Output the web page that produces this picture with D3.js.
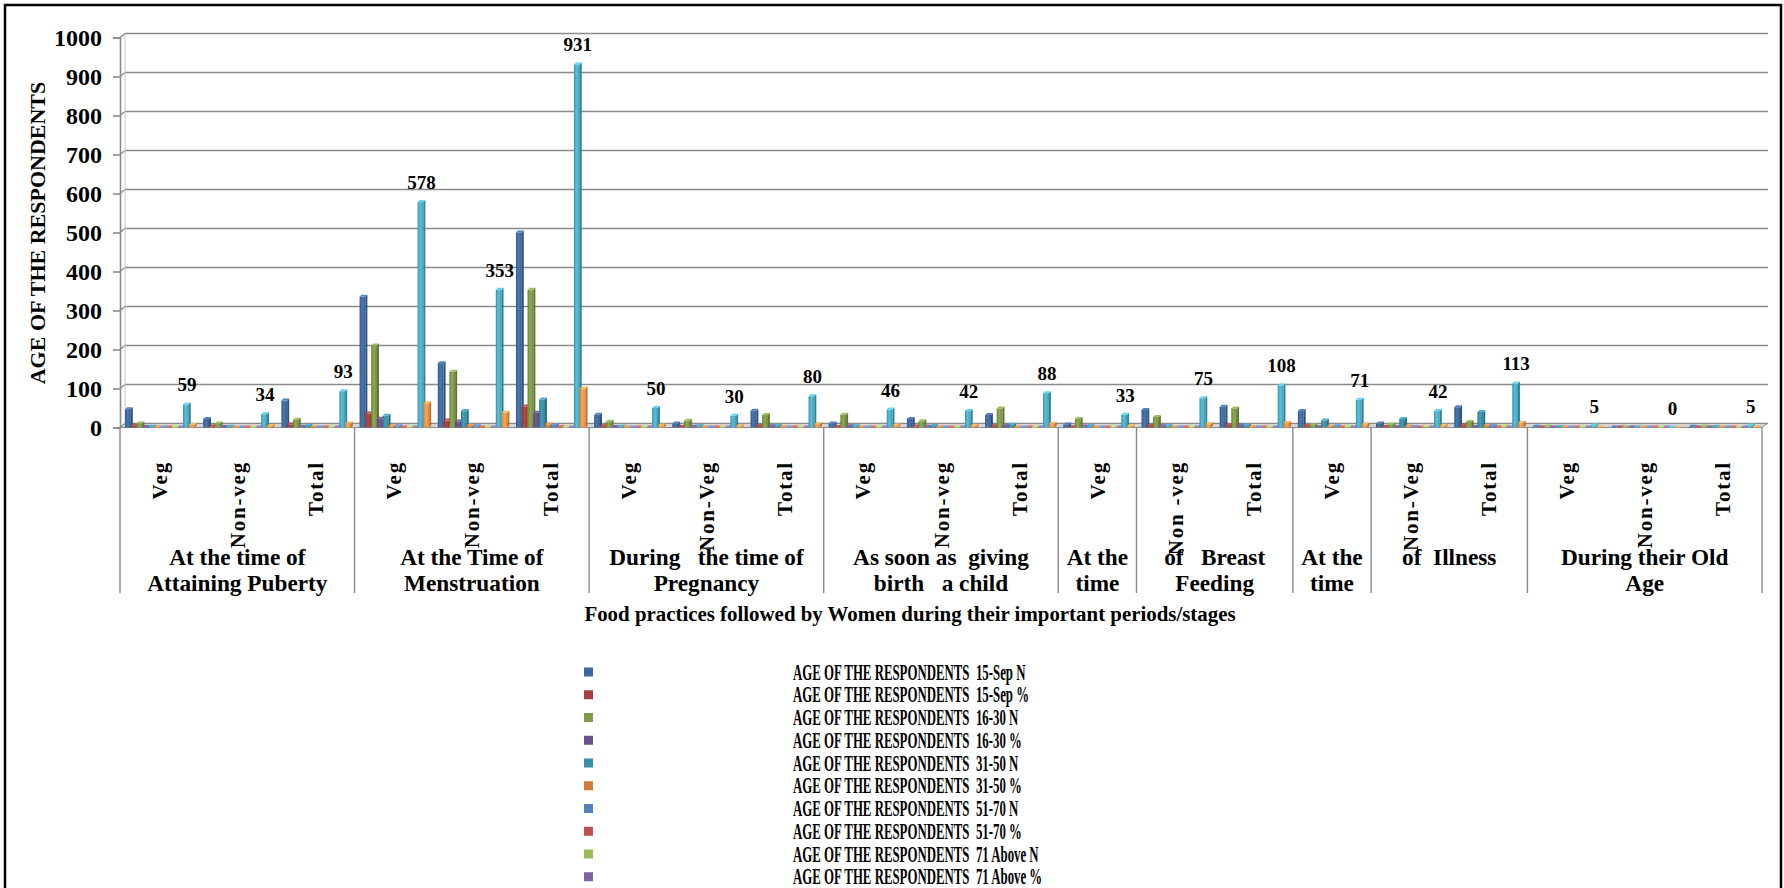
<!DOCTYPE html>
<html>
<head>
<meta charset="utf-8">
<script src="https://cdn.jsdelivr.net/npm/d3@7"></script>
<style>
  html, body { margin: 0; padding: 0; background: #fff; }
  svg { display: block; font-family: "Liberation Serif", "Times New Roman", serif; font-weight: bold; }
  text { fill: #000; white-space: pre; }
</style>
</head>
<body>
<svg id="chart" width="1784" height="888"></svg>
<script>
// categories (inner level) and their outer group labels
var categories = ["Veg", "Non-veg", "Total", "Veg", "Non-veg", "Total", "Veg", "Non-Veg", "Total",
    "Veg", "Non-veg", "Total", "Veg", "Non -veg", "Total", "Veg", "Non-Veg", "Total", "Veg", "Non-veg", "Total"];
var groupLabels = [["At the time of", "Attaining Puberty"], ["At the Time of", "Menstruation"],
    ["During   the time of", "Pregnancy"], ["As soon as  giving", "birth   a child"], ["At the", "time"],
    ["of   Breast", "Feeding"], ["At the", "time"], ["of  Illness"], ["During their Old", "Age"]];
var groupSizes = [3, 3, 3, 3, 1, 2, 1, 2, 3];

var seriesNames = ["AGE OF THE RESPONDENTS  15-Sep N", "AGE OF THE RESPONDENTS  15-Sep %",
    "AGE OF THE RESPONDENTS  16-30 N", "AGE OF THE RESPONDENTS  16-30 %",
    "AGE OF THE RESPONDENTS  31-50 N", "AGE OF THE RESPONDENTS  31-50 %",
    "AGE OF THE RESPONDENTS  51-70 N", "AGE OF THE RESPONDENTS  51-70 %",
    "AGE OF THE RESPONDENTS  71 Above N", "AGE OF THE RESPONDENTS  71 Above %",
    "AGE OF THE RESPONDENTS  Total N", "AGE OF THE RESPONDENTS  Total %"];

var sep15N  = [47, 22, 69, 335, 165, 500, 33, 10, 43, 10, 22, 32, 8, 45, 53, 42, 10, 52, 2, 0, 2];
var sep15P  = [5.0, 2.4, 7.4, 36.0, 17.7, 53.7, 3.5, 1.1, 4.6, 1.1, 2.4, 3.4, 0.9, 4.8, 5.7, 4.5, 1.1, 5.6, 0.2, 0, 0.2];
var age1630N = [10, 10, 20, 210, 143, 353, 15, 17, 32, 33, 16, 49, 22, 27, 49, 6, 8, 14, 2, 0, 2];
var age1630P = [1.1, 1.1, 2.1, 22.6, 15.4, 37.9, 1.6, 1.8, 3.4, 3.5, 1.7, 5.3, 2.4, 2.9, 5.3, 0.6, 0.9, 1.5, 0.2, 0, 0.2];
var age3150N = [2, 2, 4, 30, 42, 72, 2, 3, 5, 3, 4, 7, 3, 3, 6, 18, 22, 40, 1, 0, 1];
var age3150P = [0.2, 0.2, 0.4, 3.2, 4.5, 7.7, 0.2, 0.3, 0.5, 0.3, 0.4, 0.8, 0.3, 0.3, 0.6, 1.9, 2.4, 4.3, 0.1, 0, 0.1];
var age5170N = [0, 0, 0, 3, 3, 6, 0, 0, 0, 0, 0, 0, 0, 0, 0, 3, 1, 4, 0, 0, 0];
var age5170P = [0, 0, 0, 0.3, 0.3, 0.6, 0, 0, 0, 0, 0, 0, 0, 0, 0, 0.3, 0.1, 0.4, 0, 0, 0];
var age71N  = [0, 0, 0, 0, 0, 0, 0, 0, 0, 0, 0, 0, 0, 0, 0, 2, 1, 3, 0, 0, 0];
var age71P  = [0, 0, 0, 0, 0, 0, 0, 0, 0, 0, 0, 0, 0, 0, 0, 0.2, 0.1, 0.3, 0, 0, 0];
var totalN  = [59, 34, 93, 578, 353, 931, 50, 30, 80, 46, 42, 88, 33, 75, 108, 71, 42, 113, 5, 0, 5];
var totalP  = [6.3, 3.7, 10.0, 62.1, 37.9, 100, 5.4, 3.2, 8.6, 4.9, 4.5, 9.5, 3.5, 8.1, 11.6, 7.6, 4.5, 12.1, 0.5, 0, 0.5];

var yTicks = [0, 100, 200, 300, 400, 500, 600, 700, 800, 900, 1000];

var seriesValues = [sep15N, sep15P, age1630N, age1630P, age3150N, age3150P,
    age5170N, age5170P, age71N, age71P, totalN, totalP];
var colors = ["#3F6A9F", "#A1403D", "#7E9A47", "#6A5089", "#3B8FA6", "#D07C34",
    "#4F81BD", "#C0504D", "#9BBB59", "#8064A2", "#4BACC6", "#F79646"];
var labelSeries = 10; // Total N carries the data labels

var svg = d3.select("#chart");

// outer frame
svg.append("rect")
    .attr("x", 5).attr("y", 5)
    .attr("width", 1776).attr("height", 920)
    .attr("fill", "#fff").attr("stroke", "#000").attr("stroke-width", 2.5);

var plotLeft = 120, plotRight = 1762;
var depthX = 5, depthY = 4;   // back wall offset
var barDX = 2, barDY = 2;     // bar depth

var x = d3.scaleBand()
    .domain(d3.range(categories.length))
    .range([plotLeft, plotRight])
    .padding(0);

var xs = d3.scaleBand()
    .domain(d3.range(seriesValues.length))
    .range([5, 5 + 12 * 5.8])
    .padding(0);

var y = d3.scaleLinear().domain([0, 1000]).range([427.5, 37.5]);

// position of a category boundary (0..categories.length)
function edge(b) {
    return b >= categories.length ? plotRight : x(b);
}

// gradients for the bar fronts
var defs = svg.append("defs");
colors.forEach(function (c, i) {
    var g = defs.append("linearGradient").attr("id", "grad" + i)
        .attr("x1", "0%").attr("x2", "100%").attr("y1", "0%").attr("y2", "0%");
    g.append("stop").attr("offset", "0%").attr("stop-color", d3.color(c).darker(0.5));
    g.append("stop").attr("offset", "45%").attr("stop-color", d3.color(c).brighter(0.35));
    g.append("stop").attr("offset", "100%").attr("stop-color", d3.color(c).darker(0.3));
});

// back wall gridlines and left wall diagonals
var grid = svg.append("g");
yTicks.forEach(function (t) {
    grid.append("line")
        .attr("x1", plotLeft + depthX).attr("x2", plotRight + depthX + 1)
        .attr("y1", y(t) - depthY).attr("y2", y(t) - depthY)
        .attr("stroke", "#8a8a8a").attr("stroke-width", 1.6);
    grid.append("line")
        .attr("x1", plotLeft).attr("x2", plotLeft + depthX)
        .attr("y1", y(t)).attr("y2", y(t) - depthY)
        .attr("stroke", "#8a8a8a").attr("stroke-width", 1.4);
});
grid.append("line")
    .attr("x1", plotLeft + depthX).attr("x2", plotLeft + depthX)
    .attr("y1", y(0) - depthY).attr("y2", y(1000) - depthY)
    .attr("stroke", "#c8c8c8").attr("stroke-width", 1);

// floor
svg.append("path")
    .attr("d", "M" + plotLeft + "," + y(0) + "L" + plotRight + "," + y(0) +
        "L" + (plotRight + depthX) + "," + (y(0) - depthY) + "L" + (plotLeft + depthX) + "," + (y(0) - depthY) + "Z")
    .attr("fill", "#d4d4d4").attr("stroke", "#8a8a8a").attr("stroke-width", 1);

// y axis
var yAxis = svg.append("g")
    .attr("transform", "translate(" + plotLeft + ",0)")
    .call(d3.axisLeft(y).tickValues(yTicks).tickSize(7).tickPadding(11).tickFormat(d3.format("d")));
yAxis.select(".domain").attr("stroke", "#8a8a8a").attr("stroke-width", 1.6);
yAxis.selectAll(".tick line").attr("stroke", "#8a8a8a").attr("stroke-width", 1.6);
yAxis.selectAll(".tick text")
    .attr("font-family", "Liberation Serif, Times New Roman, serif")
    .attr("font-weight", "bold").attr("font-size", 24).attr("fill", "#000");

// bars
var bars = svg.append("g");
categories.forEach(function (cat, ci) {
    seriesValues.forEach(function (vals, si) {
        var v = vals[ci];
        var x0 = x(ci) + xs(si), w = xs.bandwidth();
        var yTop = y(v), yBase = y(0);
        var c = d3.color(colors[si]);
        var g = bars.append("g");
        g.append("rect")
            .attr("x", x0).attr("y", yTop)
            .attr("width", w).attr("height", Math.max(0, yBase - yTop))
            .attr("fill", "url(#grad" + si + ")");
        g.append("path")
            .attr("d", "M" + (x0 + w) + "," + yTop + "L" + (x0 + w + barDX) + "," + (yTop - barDY) +
                "L" + (x0 + w + barDX) + "," + (yBase - barDY) + "L" + (x0 + w) + "," + yBase + "Z")
            .attr("fill", c.darker(0.8));
        g.append("path")
            .attr("d", "M" + x0 + "," + yTop + "L" + (x0 + w) + "," + yTop +
                "L" + (x0 + w + barDX) + "," + (yTop - barDY) + "L" + (x0 + barDX) + "," + (yTop - barDY) + "Z")
            .attr("fill", c.brighter(0.6));
    });
});

// data labels on Total N
svg.append("g").selectAll("text")
    .data(totalN)
    .join("text")
    .attr("x", function (d, i) { return x(i) + xs(labelSeries) + xs.bandwidth() / 2 + 1; })
    .attr("y", function (d) { return y(d) - 13; })
    .attr("text-anchor", "middle")
    .attr("font-size", 19)
    .text(function (d) { return d; });

// group dividers below the floor
var bounds = [0].concat(Array.from(d3.cumsum(groupSizes)));
svg.append("g").selectAll("line")
    .data(bounds)
    .join("line")
    .attr("x1", edge).attr("x2", edge)
    .attr("y1", y(0)).attr("y2", 593)
    .attr("stroke", "#8a8a8a").attr("stroke-width", 1.4);

// category labels (rotated)
svg.append("g").selectAll("text")
    .data(categories)
    .join("text")
    .attr("transform", function (d, i) {
        return "translate(" + (x(i) + x.bandwidth() / 2 + 7.5) + ",461) rotate(-90)";
    })
    .attr("text-anchor", "end")
    .attr("font-size", 21)
    .attr("letter-spacing", 1.8)
    .text(function (d) { return d; });

// group labels
var groupG = svg.append("g");
groupLabels.forEach(function (lines, gi) {
    var cx = (edge(bounds[gi]) + edge(bounds[gi + 1])) / 2;
    lines.forEach(function (line, li) {
        groupG.append("text")
            .attr("transform", "translate(" + cx + "," + (565 + li * 25.5) + ") scale(0.97,1)")
            .attr("text-anchor", "middle")
            .attr("font-size", 24)
            .text(line);
    });
});

// axis titles
svg.append("text")
    .attr("transform", "translate(910,621) scale(0.95,1)")
    .attr("text-anchor", "middle")
    .attr("font-size", 22)
    .text("Food practices followed by Women during their important periods/stages");

svg.append("text")
    .attr("transform", "translate(45,233) rotate(-90)")
    .attr("text-anchor", "middle")
    .attr("font-size", 22)
    .text("AGE OF THE RESPONDENTS");

// legend
var legend = svg.append("g").selectAll("g")
    .data(seriesNames)
    .join("g")
    .attr("transform", function (d, i) { return "translate(0," + (672 + i * 22.75) + ")"; });
legend.append("rect")
    .attr("x", 584).attr("y", -4.5)
    .attr("width", 9).attr("height", 9)
    .attr("fill", function (d, i) { return colors[i]; });
legend.append("text")
    .attr("transform", "translate(793,7.5) scale(0.535,1)")
    .attr("font-size", 24)
    .text(function (d) { return d; });
</script>
</body>
</html>
